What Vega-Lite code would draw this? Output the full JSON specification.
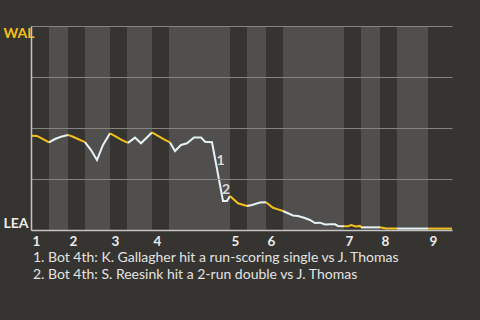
{
  "$schema": "https://vega.github.io/schema/vega-lite/v6.json",
  "width": 421,
  "height": 204,
  "autosize": "none",
  "padding": {"left": 31, "top": 26, "right": 28, "bottom": 90},
  "background": "#363430",
  "config": {"view": {"stroke": null}, "font": "Lato"},
  "title": {
    "text": ["1. Bot 4th: K. Gallagher hit a run-scoring single vs J. Thomas", "2. Bot 4th: S. Reesink hit a 2-run double vs J. Thomas"],
    "orient": "bottom",
    "anchor": "start",
    "frame": "group",
    "fontSize": 14,
    "fontWeight": "normal",
    "font": "Lato",
    "color": "#e3e3e3",
    "lineHeight": 17.5,
    "baseline": "top",
    "offset": 3,
    "dx": 2
  },
  "datasets": {
    "bands": [
      {"start": 18, "end": 37},
      {"start": 54, "end": 79},
      {"start": 96, "end": 121},
      {"start": 138, "end": 199},
      {"start": 216, "end": 235},
      {"start": 252, "end": 313},
      {"start": 330, "end": 349},
      {"start": 366, "end": 397}
    ],
    "wp": [
      {"x": 0, "wp": 0.462, "half": "T1", "team": "WAL"},
      {"x": 6, "wp": 0.461, "half": "T1", "team": "WAL"},
      {"x": 12, "wp": 0.445, "half": "T1", "team": "WAL"},
      {"x": 18, "wp": 0.429, "half": "T1", "team": "WAL"},
      {"x": 18, "wp": 0.429, "half": "B1", "team": "LEA"},
      {"x": 24, "wp": 0.446, "half": "B1", "team": "LEA"},
      {"x": 30, "wp": 0.457, "half": "B1", "team": "LEA"},
      {"x": 37, "wp": 0.466, "half": "B1", "team": "LEA"},
      {"x": 37, "wp": 0.466, "half": "T2", "team": "WAL"},
      {"x": 42, "wp": 0.457, "half": "T2", "team": "WAL"},
      {"x": 47, "wp": 0.446, "half": "T2", "team": "WAL"},
      {"x": 54, "wp": 0.431, "half": "T2", "team": "WAL"},
      {"x": 54, "wp": 0.431, "half": "B2", "team": "LEA"},
      {"x": 60, "wp": 0.392, "half": "B2", "team": "LEA"},
      {"x": 66, "wp": 0.343, "half": "B2", "team": "LEA"},
      {"x": 72, "wp": 0.417, "half": "B2", "team": "LEA"},
      {"x": 79, "wp": 0.474, "half": "B2", "team": "LEA"},
      {"x": 79, "wp": 0.474, "half": "T3", "team": "WAL"},
      {"x": 85, "wp": 0.458, "half": "T3", "team": "WAL"},
      {"x": 91, "wp": 0.441, "half": "T3", "team": "WAL"},
      {"x": 97, "wp": 0.427, "half": "T3", "team": "WAL"},
      {"x": 97, "wp": 0.427, "half": "B3", "team": "LEA"},
      {"x": 104, "wp": 0.453, "half": "B3", "team": "LEA"},
      {"x": 110, "wp": 0.425, "half": "B3", "team": "LEA"},
      {"x": 121, "wp": 0.478, "half": "B3", "team": "LEA"},
      {"x": 121, "wp": 0.478, "half": "T4", "team": "WAL"},
      {"x": 127, "wp": 0.461, "half": "T4", "team": "WAL"},
      {"x": 133, "wp": 0.444, "half": "T4", "team": "WAL"},
      {"x": 139, "wp": 0.429, "half": "T4", "team": "WAL"},
      {"x": 139, "wp": 0.429, "half": "B4", "team": "LEA"},
      {"x": 144, "wp": 0.387, "half": "B4", "team": "LEA"},
      {"x": 150, "wp": 0.417, "half": "B4", "team": "LEA"},
      {"x": 156, "wp": 0.425, "half": "B4", "team": "LEA"},
      {"x": 163, "wp": 0.454, "half": "B4", "team": "LEA"},
      {"x": 170, "wp": 0.454, "half": "B4", "team": "LEA"},
      {"x": 174, "wp": 0.433, "half": "B4", "team": "LEA"},
      {"x": 181, "wp": 0.430, "half": "B4", "team": "LEA"},
      {"x": 192, "wp": 0.142, "half": "B4", "team": "LEA"},
      {"x": 196, "wp": 0.142, "half": "B4", "team": "LEA"},
      {"x": 199, "wp": 0.167, "half": "B4", "team": "LEA"},
      {"x": 199, "wp": 0.167, "half": "T5", "team": "WAL"},
      {"x": 207, "wp": 0.131, "half": "T5", "team": "WAL"},
      {"x": 216, "wp": 0.118, "half": "T5", "team": "WAL"},
      {"x": 216, "wp": 0.118, "half": "B5", "team": "LEA"},
      {"x": 221, "wp": 0.123, "half": "B5", "team": "LEA"},
      {"x": 229, "wp": 0.135, "half": "B5", "team": "LEA"},
      {"x": 235, "wp": 0.136, "half": "B5", "team": "LEA"},
      {"x": 235, "wp": 0.136, "half": "T6", "team": "WAL"},
      {"x": 242, "wp": 0.109, "half": "T6", "team": "WAL"},
      {"x": 247, "wp": 0.101, "half": "T6", "team": "WAL"},
      {"x": 252, "wp": 0.093, "half": "T6", "team": "WAL"},
      {"x": 252, "wp": 0.093, "half": "B6", "team": "LEA"},
      {"x": 257, "wp": 0.082, "half": "B6", "team": "LEA"},
      {"x": 262, "wp": 0.071, "half": "B6", "team": "LEA"},
      {"x": 267, "wp": 0.069, "half": "B6", "team": "LEA"},
      {"x": 273, "wp": 0.060, "half": "B6", "team": "LEA"},
      {"x": 279, "wp": 0.049, "half": "B6", "team": "LEA"},
      {"x": 284, "wp": 0.034, "half": "B6", "team": "LEA"},
      {"x": 289, "wp": 0.036, "half": "B6", "team": "LEA"},
      {"x": 294, "wp": 0.027, "half": "B6", "team": "LEA"},
      {"x": 299, "wp": 0.028, "half": "B6", "team": "LEA"},
      {"x": 304, "wp": 0.028, "half": "B6", "team": "LEA"},
      {"x": 307, "wp": 0.020, "half": "B6", "team": "LEA"},
      {"x": 313, "wp": 0.018, "half": "B6", "team": "LEA"},
      {"x": 313, "wp": 0.018, "half": "T7", "team": "WAL"},
      {"x": 317, "wp": 0.018, "half": "T7", "team": "WAL"},
      {"x": 320, "wp": 0.024, "half": "T7", "team": "WAL"},
      {"x": 325, "wp": 0.017, "half": "T7", "team": "WAL"},
      {"x": 329, "wp": 0.020, "half": "T7", "team": "WAL"},
      {"x": 330, "wp": 0.013, "half": "T7", "team": "WAL"},
      {"x": 330, "wp": 0.013, "half": "B7", "team": "LEA"},
      {"x": 349, "wp": 0.013, "half": "B7", "team": "LEA"},
      {"x": 349, "wp": 0.013, "half": "T8", "team": "WAL"},
      {"x": 355, "wp": 0.007, "half": "T8", "team": "WAL"},
      {"x": 366, "wp": 0.007, "half": "T8", "team": "WAL"},
      {"x": 366, "wp": 0.007, "half": "B8", "team": "LEA"},
      {"x": 397, "wp": 0.007, "half": "B8", "team": "LEA"},
      {"x": 397, "wp": 0.007, "half": "T9", "team": "WAL"},
      {"x": 421, "wp": 0.007, "half": "T9", "team": "WAL"}
    ],
    "notes": [
      {"x": 189.5, "wp": 0.336, "label": "1"},
      {"x": 195, "wp": 0.194, "label": "2"}
    ]
  },
  "layer": [
    {
      "data": {"name": "bands"},
      "mark": {"type": "rect", "color": "#504f4d"},
      "encoding": {
        "x": {
          "field": "start",
          "type": "quantitative",
          "scale": {"domain": [0, 421], "nice": false, "zero": false},
          "axis": {
            "title": null,
            "values": [0, 37, 79, 121, 199, 235, 313, 349, 397],
            "labelExpr": "'' + (indexof([0, 37, 79, 121, 199, 235, 313, 349, 397], datum.value) + 1)",
            "labelAlign": "left",
            "labelBaseline": "top",
            "labelFlush": false,
            "labelOverlap": false,
            "labelPadding": 4,
            "labelOffset": 1,
            "labelFont": "Lato",
            "labelFontSize": 13.5,
            "labelFontWeight": "bold",
            "labelColor": "#ececec",
            "ticks": false,
            "tickSize": 0,
            "grid": false,
            "domainColor": "#c4c4c4",
            "domainWidth": 1.5,
            "zindex": 1
          }
        },
        "x2": {"field": "end"}
      }
    },
    {
      "data": {"name": "wp"},
      "mark": {"type": "line", "strokeWidth": 2},
      "encoding": {
        "x": {"field": "x", "type": "quantitative"},
        "y": {
          "field": "wp",
          "type": "quantitative",
          "scale": {"domain": [0, 1], "nice": false},
          "axis": {
            "title": null,
            "values": [0, 0.25, 0.5, 0.75, 1],
            "labelExpr": "datum.value == 1 ? 'WAL' : (datum.value == 0 ? 'LEA' : '')",
            "labelAlign": "left",
            "labelBaseline": {"condition": {"test": "datum.value == 1", "value": "top"}, "value": "bottom"},
            "labelColor": {"condition": {"test": "datum.value == 1", "value": "#f5c01a"}, "value": "#ececec"},
            "labelFont": "Lato",
            "labelFontSize": 14,
            "labelFontWeight": "bold",
            "labelPadding": 28,
            "labelFlush": false,
            "labelOverlap": false,
            "ticks": false,
            "tickSize": 0,
            "grid": true,
            "gridColor": "#85837f",
            "gridWidth": 1,
            "domainColor": "#c4c4c4",
            "domainWidth": 1.5,
            "zindex": 1
          }
        },
        "color": {
          "field": "team",
          "type": "nominal",
          "scale": {"domain": ["WAL", "LEA"], "range": ["#f5c01a", "#e6f2f5"]},
          "legend": null
        },
        "detail": {"field": "half", "type": "nominal"}
      }
    },
    {
      "data": {"name": "notes"},
      "mark": {"type": "text", "font": "Lato", "fontWeight": "bold", "fontSize": 14, "color": "#d9d9d9"},
      "encoding": {
        "x": {"field": "x", "type": "quantitative"},
        "y": {"field": "wp", "type": "quantitative"},
        "text": {"field": "label", "type": "nominal"}
      }
    }
  ]
}
